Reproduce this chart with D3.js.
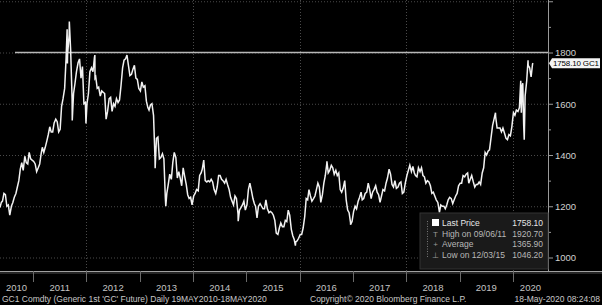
<!DOCTYPE html>
<html>
<head>
<meta charset="utf-8">
<script src="https://cdn.jsdelivr.net/npm/d3@7"></script>
<style>
  html, body { margin: 0; padding: 0; background: #000; }
  svg { display: block; font-family: "Liberation Sans", Arial, sans-serif; }
</style>
</head>
<body>
<div id="chart"></div>
<script>
// GC1 front-month gold, sampled on the 5th / 15th / 25th of each month
const gold2010 = [1220, 1250, 1245, 1200, 1205, 1165, 1200, 1215, 1235, 1250, 1275, 1300,
                  1345, 1370, 1340, 1395, 1370, 1365, 1410, 1385, 1380]; // from June
const gold2011 = [1375, 1365, 1335, 1350, 1365, 1405, 1430, 1410, 1430, 1455, 1480, 1510,
                  1490, 1490, 1525, 1540, 1530, 1490, 1500, 1590, 1620, 1660, 1780, 1790,
                  1870, 1810, 1620, 1640, 1680, 1725, 1760, 1775, 1700, 1745, 1600, 1605];
const gold2012 = [1600, 1640, 1725, 1740, 1725, 1780, 1705, 1660, 1665, 1630, 1650, 1645,
                  1640, 1540, 1570, 1620, 1625, 1570, 1600, 1590, 1620, 1605, 1615, 1670,
                  1740, 1770, 1775, 1790, 1750, 1710, 1715, 1735, 1750, 1700, 1695, 1660];
const gold2013 = [1650, 1685, 1665, 1670, 1610, 1585, 1575, 1595, 1600, 1555, 1385, 1465,
                  1470, 1385, 1390, 1405, 1385, 1230, 1250, 1285, 1325, 1305, 1370, 1410,
                  1390, 1310, 1335, 1310, 1280, 1350, 1315, 1285, 1245, 1230, 1235, 1205];
const gold2014 = [1240, 1250, 1265, 1260, 1320, 1330, 1345, 1380, 1300, 1295, 1300, 1295,
                  1305, 1295, 1265, 1250, 1275, 1320, 1320, 1305, 1300, 1290, 1305, 1285,
                  1265, 1235, 1220, 1205, 1240, 1230, 1170, 1185, 1195, 1205, 1220, 1185];
const gold2015 = [1205, 1265, 1290, 1260, 1230, 1210, 1200, 1155, 1200, 1210, 1200, 1190,
                  1190, 1225, 1190, 1175, 1180, 1175, 1165, 1145, 1095, 1090, 1115, 1135,
                  1120, 1120, 1145, 1140, 1185, 1165, 1110, 1085, 1070, 1060, 1065, 1075];
const gold2016 = [1090, 1090, 1115, 1160, 1230, 1225, 1265, 1240, 1220, 1230, 1240, 1265,
                  1290, 1275, 1215, 1245, 1290, 1320, 1365, 1330, 1340, 1360, 1350, 1325,
                  1340, 1320, 1330, 1265, 1255, 1270, 1300, 1225, 1185, 1175, 1135, 1140];
const gold2017 = [1180, 1200, 1190, 1220, 1235, 1255, 1225, 1230, 1250, 1255, 1290, 1265,
                  1230, 1255, 1265, 1280, 1255, 1245, 1215, 1240, 1265, 1260, 1290, 1310,
                  1345, 1325, 1285, 1275, 1300, 1270, 1275, 1290, 1295, 1250, 1255, 1290];
const gold2018 = [1320, 1340, 1360, 1335, 1355, 1330, 1320, 1315, 1350, 1335, 1350, 1320,
                  1315, 1290, 1300, 1295, 1280, 1250, 1255, 1240, 1225, 1215, 1180, 1205,
                  1200, 1200, 1190, 1205, 1225, 1235, 1230, 1210, 1225, 1240, 1250, 1280];
const gold2019 = [1290, 1290, 1320, 1315, 1325, 1330, 1290, 1305, 1320, 1295, 1275, 1285,
                  1285, 1295, 1285, 1330, 1350, 1410, 1400, 1415, 1420, 1470, 1515, 1540,
                  1550, 1505, 1505, 1505, 1490, 1505, 1485, 1465, 1460, 1480, 1475, 1510];
const gold2020 = [1565, 1555, 1575, 1570, 1585, 1650, 1670, 1520, 1630, 1690, 1750, 1740,
                  1705, 1755];

// single-day highs, lows and end points between the regular samples
const extraDates  = ["2010-05-19", "2010-05-28", "2011-08-22", "2011-08-24", "2011-09-06",
                     "2011-09-26", "2011-12-29", "2012-02-28", "2012-02-29", "2013-04-16",
                     "2013-06-28", "2014-11-06", "2015-12-03", "2016-07-06", "2016-12-15",
                     "2018-08-16", "2019-09-04", "2020-02-24", "2020-02-28", "2020-03-09",
                     "2020-03-19", "2020-04-14", "2020-05-18"];
const extraPrices = [1195, 1215, 1891, 1757, 1920.7, 1535, 1523, 1790, 1700, 1348,
                     1200, 1142, 1046.2, 1375, 1128, 1176, 1565, 1690, 1565, 1680,
                     1460, 1770, 1758.1];

const yearLabels = ["2010", "2011", "2012", "2013", "2014", "2015", "2016", "2017", "2018", "2019", "2020"];
const priceTicks = [1000, 1200, 1400, 1600, 1800, 2000];
const legendRows = [
    { label: "Last Price", value: "1758.10" },
    { label: "High on 09/06/11", value: "1920.70" },
    { label: "Average", value: "1365.90" },
    { label: "Low on 12/03/15", value: "1046.20" }
];
const lastPrice = 1758.10;
const refLevel = 1800;

// build the series
const parse = d3.timeParse("%Y-%m-%d");
const series = [];
function addYear(year, startMonth, values) {
    values.forEach((v, i) => {
        const m = startMonth + Math.floor(i / 3);
        const day = [5, 15, 25][i % 3];
        series.push({ date: new Date(year, m, day), price: v });
    });
}
addYear(2010, 5, gold2010);
addYear(2011, 0, gold2011);
addYear(2012, 0, gold2012);
addYear(2013, 0, gold2013);
addYear(2014, 0, gold2014);
addYear(2015, 0, gold2015);
addYear(2016, 0, gold2016);
addYear(2017, 0, gold2017);
addYear(2018, 0, gold2018);
addYear(2019, 0, gold2019);
addYear(2020, 0, gold2020);
extraDates.forEach((d, i) => series.push({ date: parse(d), price: extraPrices[i] }));
series.sort((a, b) => a.date - b.date);

const W = 602, H = 305;
const axisX = 548, axisY = 271;

const svg = d3.select("#chart").append("svg")
    .attr("width", W)
    .attr("height", H);

svg.append("rect").attr("width", W).attr("height", H).attr("fill", "#000");

const x = d3.scaleTime()
    .domain([parse("2010-05-19"), parse("2020-05-18")])
    .range([0, 533]);

const y = d3.scaleLinear()
    .domain([1000, 1800])
    .range([257.5, 52.5]);

// dotted grid
svg.append("g")
    .selectAll("line")
    .data(priceTicks)
    .join("line")
    .attr("x1", 0).attr("x2", axisX)
    .attr("y1", d => y(d) + 0.5).attr("y2", d => y(d) + 0.5)
    .attr("stroke", "#4a4a4a")
    .attr("stroke-dasharray", "1,2");

const gridYears = [2012, 2014, 2016, 2018, 2020];
svg.append("g")
    .selectAll("line")
    .data(gridYears)
    .join("line")
    .attr("x1", d => Math.round(x(new Date(d, 0, 1))) + 0.5)
    .attr("x2", d => Math.round(x(new Date(d, 0, 1))) + 0.5)
    .attr("y1", 0).attr("y2", axisY)
    .attr("stroke", "#4a4a4a")
    .attr("stroke-dasharray", "1,2");

// horizontal reference line at 1800
svg.append("line")
    .attr("x1", 15).attr("x2", axisX)
    .attr("y1", y(refLevel)).attr("y2", y(refLevel))
    .attr("stroke", "#b8b8b8")
    .attr("stroke-width", 1.6);

// price line
const line = d3.line()
    .x(d => x(d.date))
    .y(d => y(d.price));

svg.append("path")
    .datum(series)
    .attr("fill", "none")
    .attr("stroke", "#f2f2f2")
    .attr("stroke-width", 1.5)
    .attr("stroke-linejoin", "miter")
    .attr("d", line);

// right price axis
const yAxis = svg.append("g")
    .attr("transform", `translate(${axisX},0)`)
    .call(d3.axisRight(y)
        .tickValues(d3.range(1000, 2001, 100))
        .tickSize(0)
        .tickFormat(""));
yAxis.select(".domain").remove();

yAxis.append("line")
    .attr("x1", 0.5).attr("x2", 0.5)
    .attr("y1", 0).attr("y2", axisY)
    .attr("stroke", "#9a9a9a");

yAxis.selectAll(".tick line")
    .attr("x2", d => d % 200 === 0 ? 5 : 3)
    .attr("stroke", "#9a9a9a");

yAxis.selectAll(".tick")
    .filter(d => d % 200 === 0 && d < 2000)
    .append("text")
    .attr("x", 7)
    .attr("dy", "0.35em")
    .attr("fill", "#d0d0d0")
    .attr("font-size", "9.5px")
    .attr("text-anchor", "start")
    .text(d => d);

// last price tag
const tagY = y(lastPrice);
svg.append("path")
    .attr("d", `M${axisX + 1},${tagY} L${axisX + 4},${tagY - 5} L600,${tagY - 5} L600,${tagY + 5} L${axisX + 4},${tagY + 5} Z`)
    .attr("fill", "#f4f4f4");
svg.append("text")
    .attr("x", axisX + 5)
    .attr("y", tagY + 3)
    .attr("font-size", "8px")
    .attr("fill", "#000")
    .attr("textLength", 46)
    .text(lastPrice.toFixed(2) + " GC1");

// time axis
svg.append("line")
    .attr("x1", 0).attr("x2", W)
    .attr("y1", axisY + 0.5).attr("y2", axisY + 0.5)
    .attr("stroke", "#a0a0a0");
svg.append("line")
    .attr("x1", 0).attr("x2", W)
    .attr("y1", axisY + 2).attr("y2", axisY + 2)
    .attr("stroke", "#4a4a4a");

const bounds = d3.range(2011, 2021).map(yr => new Date(yr, 0, 1));
svg.append("g")
    .selectAll("line")
    .data(bounds)
    .join("line")
    .attr("x1", d => Math.round(x(d)) + 0.5)
    .attr("x2", d => Math.round(x(d)) + 0.5)
    .attr("y1", axisY).attr("y2", axisY + 11)
    .attr("stroke", "#6a6a6a");

const edges = [0].concat(bounds.map(d => x(d)), [axisX]);
svg.append("g")
    .selectAll("text")
    .data(yearLabels)
    .join("text")
    .attr("x", (d, i) => (edges[i] + edges[i + 1]) / 2)
    .attr("y", 291)
    .attr("text-anchor", "middle")
    .attr("font-size", "9.5px")
    .attr("fill", "#c4c4c4")
    .text(d => d);

// legend box
const lg = svg.append("g").attr("transform", "translate(420,213)");
lg.append("rect")
    .attr("width", 128).attr("height", 56)
    .attr("fill", "#1a1a1a")
    .attr("stroke", "#333");
lg.append("line")
    .attr("x1", 7.5).attr("x2", 7.5)
    .attr("y1", 8).attr("y2", 44)
    .attr("stroke", "#777")
    .attr("stroke-dasharray", "1,1.5");
lg.append("rect")
    .attr("x", 12).attr("y", 6)
    .attr("width", 7).attr("height", 7)
    .attr("fill", "#fff");
lg.append("text").attr("x", 15.5).attr("y", 24).attr("text-anchor", "middle")
    .attr("font-size", "8px").attr("fill", "#999").text("T");
lg.append("text").attr("x", 15.5).attr("y", 34).attr("text-anchor", "middle")
    .attr("font-size", "8px").attr("fill", "#999").text("+");
lg.append("text").attr("x", 15.5).attr("y", 45).attr("text-anchor", "middle")
    .attr("font-size", "8px").attr("fill", "#999").text("⊥");

const rows = lg.selectAll(".row")
    .data(legendRows)
    .join("g")
    .attr("class", "row")
    .attr("transform", (d, i) => `translate(0,${13 + i * 10.5})`);
rows.append("text")
    .attr("x", 22)
    .attr("font-size", "8.5px")
    .attr("fill", (d, i) => i === 0 ? "#e6e6e6" : "#b8b8b8")
    .text(d => d.label);
rows.append("text")
    .attr("x", 123)
    .attr("text-anchor", "end")
    .attr("font-size", "8.5px")
    .attr("fill", (d, i) => i === 0 ? "#e6e6e6" : "#b8b8b8")
    .text(d => d.value);

// footer
const foot = svg.append("g")
    .attr("font-size", "8.5px")
    .attr("fill", "#c8c8c8");
foot.append("text").attr("x", 2).attr("y", 302)
    .text("GC1 Comdty (Generic 1st 'GC' Future)  Daily 19MAY2010-18MAY2020");
foot.append("text").attr("x", 310).attr("y", 302)
    .text("Copyright© 2020 Bloomberg Finance L.P.");
foot.append("text").attr("x", 600).attr("y", 302).attr("text-anchor", "end")
    .text("18-May-2020 08:24:08");
</script>
</body>
</html>
